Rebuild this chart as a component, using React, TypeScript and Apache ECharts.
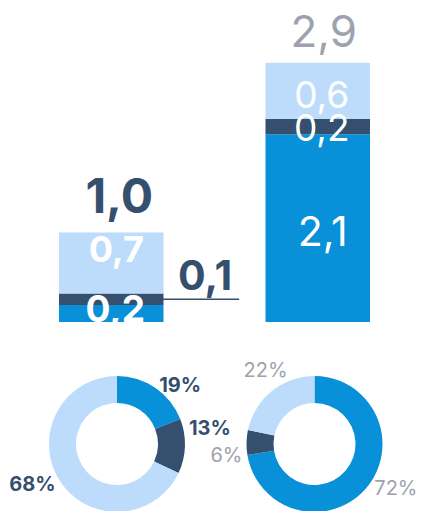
import React, { useEffect, useRef } from "react";
import * as echarts from "echarts";

// ---- data ----
const categories = ["Group A", "Group B"];
const baseValues = [0.19, 2.1]; // bright blue (bottom)
const midValues = [0.13, 0.17]; // navy (middle)
const topValues = [0.68, 0.63]; // light blue (top)
const totals = categories.map((_, i) => +(baseValues[i] + midValues[i] + topValues[i]).toFixed(1));
const segmentNames = ["Base", "Middle", "Top"];

// ---- styles ----
const BLUE = "#0890d8";
const NAVY = "#35506f";
const LIGHT = "#bddcfc";
const GRAY = "#9ea2ae";
const FONT = "Inter, Roboto, sans-serif";
const BAR_W = 104.5;

const fmt = (v: number) => v.toFixed(1).replace(".", ",");

const inLabel = (bold: boolean, size: number, offset: number[]) => ({
  show: true,
  position: "inside",
  color: "#ffffff",
  fontFamily: FONT,
  fontWeight: bold ? "bold" : "normal",
  fontSize: size,
  offset,
  formatter: (p: any) => fmt(p.value),
});

export default function App() {
  const barRef = useRef<HTMLDivElement>(null);
  const pieRef = useRef<HTMLDivElement>(null);

  useEffect(() => {
    const bar = echarts.init(barRef.current!, null, { renderer: "svg" });
    const pie = echarts.init(pieRef.current!, null, { renderer: "svg" });

    const baseLabels = [inLabel(true, 37, [4, -5]), inLabel(false, 41, [5, 3])];
    const topLabels = [inLabel(true, 36, [5, -14]), inLabel(false, 37, [4, 4])];
    const midLabels: any[] = [
      {
        show: true,
        position: ["93%", "50%"],
        align: "left",
        verticalAlign: "bottom",
        offset: [0, 1],
        formatter: (p: any) => `{v|${fmt(p.value)}}\n{l| }`,
        rich: {
          v: {
            fontSize: 41,
            fontWeight: "bold",
            color: NAVY,
            fontFamily: FONT,
            align: "right",
            padding: [0, 7, 0, 0],
            lineHeight: 47,
          },
          l: {
            width: 83,
            height: 1.5,
            lineHeight: 2,
            fontSize: 1,
            backgroundColor: NAVY,
          },
        },
      },
      inLabel(false, 37, [4, 1]),
    ];
    const totalLabels = [
      { show: true, position: "top", distance: 0, color: NAVY, fontWeight: "bold", fontSize: 48, fontFamily: FONT, offset: [8, -13], formatter: (p: any) => fmt(p.value) },
      { show: true, position: "top", distance: 0, color: GRAY, fontWeight: "normal", fontSize: 44, fontFamily: FONT, offset: [6, -10], formatter: (p: any) => fmt(p.value) },
    ];

    const stackSeries = [
      { name: segmentNames[0], values: baseValues, color: BLUE, labels: baseLabels },
      { name: segmentNames[1], values: midValues, color: NAVY, labels: midLabels },
      { name: segmentNames[2], values: topValues, color: LIGHT, labels: topLabels },
    ].map((s) => ({
      type: "bar",
      name: s.name,
      stack: "total",
      barWidth: BAR_W,
      barGap: "-100%",
      itemStyle: { color: s.color },
      data: s.values.map((v, i) => ({ value: v, label: s.labels[i] })),
    }));

    bar.setOption({
      animation: false,
      grid: { left: 8, top: 9, width: 417, bottom: 0 },
      xAxis: { type: "category", data: categories, show: false },
      yAxis: { type: "value", min: 0, max: 3.5, show: false },
      series: [
        ...stackSeries,
        {
          type: "bar",
          name: "Total",
          barWidth: BAR_W,
          barGap: "-100%",
          silent: true,
          itemStyle: { color: "rgba(0,0,0,0)" },
          data: totals.map((v, i) => ({ value: v, label: totalLabels[i] })),
        },
      ],
    });

    const colors = [BLUE, NAVY, LIGHT];
    const pieLayouts = [
      [{ dy: -2.5 }, { dy: -18.5 }, { dy: 4 }],
      [{ dx: 4 }, { dy: 12 }, { dx: 20, dy: -21.5 }],
    ];
    const pieSeries = categories.map((c, ci) => ({
      type: "pie",
      name: c,
      center: [ci === 0 ? 117 : 314.5, 122],
      radius: [41, 68],
      startAngle: 90,
      clockwise: true,
      avoidLabelOverlap: false,
      silent: true,
      data: [baseValues[ci], midValues[ci], topValues[ci]].map((v, k) => ({
        name: segmentNames[k],
        value: v,
        itemStyle: { color: colors[k] },
      })),
      label: {
        show: true,
        position: "outside",
        distanceToLabelLine: 0,
        fontFamily: FONT,
        fontSize: 20,
        fontWeight: ci === 0 ? "bold" : "normal",
        color: ci === 0 ? NAVY : GRAY,
        formatter: (p: any) => `${Math.round(p.percent)}%`,
      },
      labelLine: { show: false, length: 0, length2: 4 },
      labelLayout: (p: any) => pieLayouts[ci][p.dataIndex],
    }));

    pie.setOption({ animation: false, series: pieSeries });

    return () => {
      bar.dispose();
      pie.dispose();
    };
  }, []);

  return (
    <div style={{ position: "absolute", left: 0, top: 0, width: 421, height: 511, overflow: "hidden", background: "#fff" }}>
      <div ref={barRef} style={{ position: "absolute", left: 0, top: 0, width: 421, height: 322 }} />
      <div ref={pieRef} style={{ position: "absolute", left: 0, top: 322, width: 421, height: 189 }} />
    </div>
  );
}
